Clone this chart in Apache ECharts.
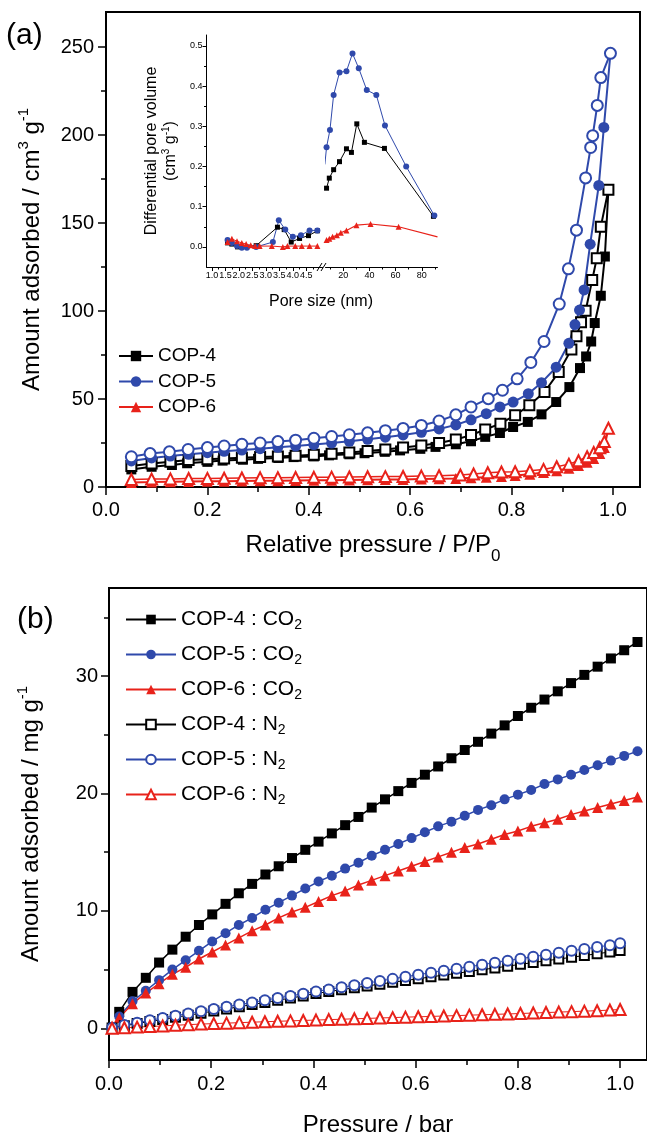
<!DOCTYPE html>
<html>
<head>
    <meta charset="UTF-8">
    <title>COP-4/5/6 sorption</title>
    <script src="https://cdn.jsdelivr.net/npm/echarts@6/dist/echarts.min.js"></script>
    <style>
        html, body { margin: 0; padding: 0; background: #fff; }
        #chart { width: 647px; height: 1141px; }
    </style>
</head>
<body>
    <div id="chart"></div>
    <script>
        // ---- (a) N2 isotherms: relative pressure P/P0 -> amount adsorbed (cm3 g-1)
        var relP4ads = [0.05, 0.09, 0.13, 0.16, 0.2, 0.23, 0.27, 0.3, 0.34, 0.37, 0.41, 0.44, 0.48, 0.51, 0.55, 0.58, 0.62, 0.65, 0.69, 0.72, 0.748, 0.777, 0.803, 0.832, 0.859, 0.888, 0.914, 0.935, 0.947, 0.957, 0.964, 0.976, 0.984, 0.991];
        var cop4ads = [10, 11.5, 12.5, 13.5, 14.3, 15, 15.5, 16, 16.5, 17, 17.4, 18, 18.6, 19.2, 20, 20.8, 21.7, 22.8, 24.3, 26, 28.5, 30.7, 34.1, 37, 41.3, 48.3, 56.8, 67.6, 74.2, 82.7, 93.2, 108.7, 131, 169];
        var relP4des = [0.05, 0.09, 0.127, 0.163, 0.2, 0.233, 0.268, 0.304, 0.339, 0.374, 0.41, 0.445, 0.48, 0.516, 0.551, 0.586, 0.622, 0.657, 0.69, 0.72, 0.748, 0.778, 0.807, 0.835, 0.865, 0.893, 0.918, 0.928, 0.937, 0.946, 0.959, 0.968, 0.976, 0.991];
        var cop4des = [11.9, 13.4, 14.3, 15.3, 15.8, 16.2, 16.6, 17, 17.4, 17.8, 18.3, 18.9, 19.6, 20.4, 21.3, 22.4, 23.6, 25, 27, 29.5, 32.7, 36, 40.8, 46.4, 54, 65.3, 78.1, 85.7, 93.6, 100.2, 117.6, 130, 148, 169];
        var relP5ads = [0.05, 0.09, 0.127, 0.163, 0.2, 0.233, 0.268, 0.304, 0.339, 0.374, 0.41, 0.445, 0.48, 0.516, 0.551, 0.586, 0.622, 0.657, 0.69, 0.72, 0.75, 0.777, 0.803, 0.833, 0.859, 0.888, 0.913, 0.925, 0.934, 0.943, 0.955, 0.972, 0.982, 0.995];
        var cop5ads = [14.8, 16.5, 17.6, 18.6, 19.5, 20.3, 21, 21.8, 22.6, 23.3, 24.1, 25, 26, 27.1, 28.3, 29.6, 31.1, 33, 35.3, 38.2, 41.7, 45.5, 48.3, 53, 59.3, 68.1, 81.7, 92.3, 100.6, 112, 138, 171.4, 204.4, 246.5];
        var relP5des = [0.05, 0.087, 0.125, 0.162, 0.2, 0.233, 0.268, 0.304, 0.339, 0.374, 0.41, 0.445, 0.48, 0.516, 0.551, 0.586, 0.622, 0.657, 0.69, 0.72, 0.754, 0.782, 0.811, 0.838, 0.864, 0.894, 0.912, 0.928, 0.946, 0.956, 0.96, 0.969, 0.976, 0.995];
        var cop5des = [17.2, 19, 20, 21.3, 22.4, 23.3, 24.3, 25, 25.8, 26.6, 27.7, 28.7, 29.7, 30.8, 32, 33.3, 35, 37.5, 41, 45.5, 50.2, 55, 61.5, 70.8, 82.7, 104, 124, 146, 175.7, 193, 199.7, 216.9, 232.7, 246.5];
        var relP6ads = [0.05, 0.09, 0.127, 0.163, 0.2, 0.233, 0.268, 0.304, 0.339, 0.374, 0.41, 0.445, 0.48, 0.516, 0.551, 0.586, 0.622, 0.657, 0.69, 0.72, 0.75, 0.78, 0.807, 0.836, 0.863, 0.889, 0.913, 0.932, 0.949, 0.962, 0.974, 0.983, 0.991];
        var cop6ads = [2.6, 2.8, 3, 3.1, 3.2, 3.3, 3.4, 3.5, 3.6, 3.7, 3.8, 3.9, 4, 4.1, 4.2, 4.3, 4.5, 4.7, 4.9, 5.2, 5.6, 6, 6.6, 7.3, 8.2, 9.3, 10.7, 12.2, 14, 16.2, 19, 22.5, 33.4];
        var relP6des = [0.05, 0.09, 0.127, 0.163, 0.2, 0.233, 0.268, 0.304, 0.339, 0.374, 0.41, 0.445, 0.48, 0.516, 0.551, 0.586, 0.622, 0.657, 0.699, 0.725, 0.753, 0.78, 0.807, 0.836, 0.863, 0.889, 0.913, 0.932, 0.949, 0.962, 0.974, 0.983, 0.991];
        var cop6des = [4.3, 4.5, 4.6, 4.8, 4.9, 5, 5.1, 5.2, 5.3, 5.4, 5.5, 5.6, 5.7, 5.8, 5.9, 6, 6.2, 6.4, 6.8, 7.4, 8.1, 8.5, 8.7, 9.2, 10, 11.5, 13, 14.9, 17.2, 19.6, 22.3, 25.8, 33.4];

        // ---- inset: pore size distribution, split axis (small pores | large pores)
        var poreSmall4 = [1.58, 1.74, 1.95, 2.64, 3.43, 3.68, 3.94, 4.25, 4.58, 4.91];
        var psdSmall4 = [0.01, 0.007, 0.0, 0.003, 0.049, 0.043, 0.012, 0.021, 0.028, 0.04];
        var poreSmall5 = [1.58, 1.74, 1.93, 2.11, 2.3, 2.64, 3.26, 3.48, 3.72, 4.0, 4.3, 4.62, 4.91];
        var psdSmall5 = [0.017, 0.01, 0.002, -0.002, -0.002, 0.0, 0.012, 0.066, 0.043, 0.025, 0.029, 0.041, 0.041];
        var poreSmall6 = [1.58, 1.74, 1.93, 2.11, 2.27, 2.44, 2.6, 2.77, 3.22, 3.63, 3.8, 4.09, 4.33, 4.62, 4.91];
        var psdSmall6 = [0.012, 0.02, 0.014, 0.01, 0.007, 0.004, 0.002, 0.002, 0.002, 0.0, 0.002, 0.002, 0.002, 0.002, 0.002];
        var poreLarge4 = [7.3, 9.4, 12.7, 17.2, 22.5, 26.3, 30.4, 36.2, 51.5, 88.9];
        var psdLarge4 = [0.146, 0.171, 0.192, 0.212, 0.244, 0.235, 0.306, 0.26, 0.245, 0.076];
        var poreLarge5 = [6.0, 7.3, 9.9, 12.7, 17.2, 22.5, 27.1, 31.9, 38, 45.3, 51.9, 68.1, 89.6];
        var psdLarge5 = [0.205, 0.248, 0.291, 0.378, 0.434, 0.437, 0.481, 0.444, 0.39, 0.378, 0.302, 0.2, 0.078];
        var poreLarge6 = [7.3, 9.4, 11.9, 15.2, 18.2, 22.5, 30.1, 40.9, 62.3, 92];
        var psdLarge6 = [0.017, 0.02, 0.025, 0.029, 0.035, 0.041, 0.054, 0.057, 0.05, 0.025];

        // ---- (b) CO2 / N2 uptake: pressure (bar) -> amount adsorbed (mg g-1)
        var presCO2 = [0.02, 0.046, 0.072, 0.098, 0.124, 0.15, 0.176, 0.202, 0.228, 0.254, 0.28, 0.306, 0.332, 0.358, 0.384, 0.41, 0.436, 0.462, 0.488, 0.514, 0.54, 0.566, 0.592, 0.618, 0.644, 0.67, 0.696, 0.722, 0.748, 0.774, 0.8, 0.826, 0.852, 0.878, 0.904, 0.93, 0.956, 0.982, 1.008, 1.034];
        var cop4CO2 = [1.4, 3.1, 4.3, 5.6, 6.7, 7.8, 8.8, 9.7, 10.6, 11.5, 12.3, 13.1, 13.8, 14.5, 15.2, 15.9, 16.6, 17.3, 18.0, 18.8, 19.5, 20.2, 20.9, 21.6, 22.3, 23.0, 23.7, 24.4, 25.1, 25.8, 26.6, 27.3, 28.0, 28.7, 29.4, 30.1, 30.8, 31.5, 32.2, 32.9];
        var cop5CO2 = [1.0, 2.3, 3.2, 4.1, 5.0, 5.8, 6.6, 7.4, 8.1, 8.8, 9.4, 10.1, 10.7, 11.3, 11.9, 12.5, 13.0, 13.6, 14.1, 14.7, 15.2, 15.7, 16.2, 16.7, 17.2, 17.6, 18.1, 18.6, 19.0, 19.5, 19.9, 20.3, 20.8, 21.2, 21.6, 22.0, 22.4, 22.8, 23.2, 23.6];
        var cop6CO2 = [0.9, 2.1, 3.0, 3.8, 4.6, 5.2, 5.9, 6.5, 7.1, 7.7, 8.3, 8.8, 9.4, 9.9, 10.3, 10.8, 11.3, 11.7, 12.2, 12.6, 13.0, 13.4, 13.8, 14.2, 14.6, 15.0, 15.4, 15.7, 16.1, 16.5, 16.8, 17.2, 17.5, 17.8, 18.2, 18.5, 18.8, 19.1, 19.4, 19.7];
        var presN2 = [0.006, 0.03, 0.055, 0.08, 0.105, 0.13, 0.155, 0.18, 0.205, 0.23, 0.255, 0.28, 0.305, 0.33, 0.355, 0.38, 0.405, 0.43, 0.455, 0.48, 0.505, 0.53, 0.555, 0.58, 0.605, 0.63, 0.655, 0.68, 0.705, 0.73, 0.755, 0.78, 0.805, 0.83, 0.855, 0.88, 0.905, 0.93, 0.955, 0.98, 1.0];
        var cop4N2 = [0.03, 0.22, 0.4, 0.58, 0.76, 0.94, 1.11, 1.29, 1.47, 1.65, 1.84, 2.02, 2.2, 2.39, 2.57, 2.76, 2.97, 3.13, 3.29, 3.45, 3.61, 3.76, 3.92, 4.07, 4.22, 4.38, 4.53, 4.68, 4.84, 4.99, 5.14, 5.29, 5.45, 5.6, 5.75, 5.9, 6.05, 6.2, 6.35, 6.5, 6.63];
        var cop5N2 = [0.05, 0.28, 0.48, 0.68, 0.88, 1.07, 1.26, 1.45, 1.64, 1.83, 2.02, 2.2, 2.39, 2.58, 2.76, 2.95, 3.13, 3.31, 3.49, 3.67, 3.85, 4.03, 4.21, 4.39, 4.57, 4.74, 4.91, 5.08, 5.25, 5.42, 5.59, 5.76, 5.93, 6.1, 6.27, 6.43, 6.6, 6.76, 6.92, 7.08, 7.25];
        var cop6N2 = [0.0, 0.05, 0.1, 0.15, 0.2, 0.26, 0.31, 0.36, 0.4, 0.44, 0.48, 0.52, 0.56, 0.6, 0.63, 0.67, 0.7, 0.74, 0.77, 0.81, 0.84, 0.88, 0.91, 0.95, 0.98, 1.01, 1.05, 1.08, 1.12, 1.15, 1.19, 1.22, 1.26, 1.3, 1.34, 1.38, 1.42, 1.46, 1.5, 1.55, 1.6];

        // tick positions
        var ticksRelP = [0, 0.2, 0.4, 0.6, 0.8, 1.0];
        var minorRelP = [0.1, 0.3, 0.5, 0.7, 0.9];
        var ticksAmtA = [0, 50, 100, 150, 200, 250];
        var minorAmtA = [25, 75, 125, 175, 225];
        var ticksPoreSmall = [1.0, 1.5, 2.0, 2.5, 3.0, 3.5, 4.0, 4.5];
        var minorPoreSmall = [1.25, 1.75, 2.25, 2.75, 3.25, 3.75, 4.25, 4.75];
        var ticksPoreLarge = [20, 40, 60, 80];
        var minorPoreLarge = [10, 30, 50, 70, 90];
        var ticksPsd = [0, 0.1, 0.2, 0.3, 0.4, 0.5];
        var minorPsd = [0.05, 0.15, 0.25, 0.35, 0.45];
        var ticksAmtB = [0, 10, 20, 30];
        var minorAmtB = [5, 15, 25, 35];

        var FONT = 'Liberation Sans';
        var BLACK = '#000000';
        var BLUE = '#2f49ab';
        var RED = '#e8221a';

        function pts(xs, ys) {
            return xs.map(function (x, i) { return [x, ys[i]]; });
        }

        // major axis: line, ticks and labels
        function axis(kind, grid, min, max, ticks, o) {
            return {
                type: 'value', gridIndex: grid, min: min, max: max,
                position: kind === 'x' ? 'bottom' : 'left',
                show: o.show !== false,
                splitLine: {show: false},
                axisLine: {show: true, onZero: false, lineStyle: {color: BLACK, width: o.lw}},
                axisTick: {show: true, inside: false, length: o.tick, customValues: ticks,
                    lineStyle: {color: BLACK, width: o.tw}},
                axisLabel: {show: true, customValues: ticks, fontSize: o.fs, margin: o.margin,
                    color: BLACK, fontFamily: FONT, formatter: o.fmt},
                name: o.name || '', nameLocation: 'middle', nameGap: o.nameGap || 0,
                nameRotate: kind === 'y' ? 90 : 0,
                nameTextStyle: o.nameStyle
            };
        }
        // minor ticks only, drawn on top of the major axis
        function minor(kind, grid, min, max, ticks, len, tw) {
            return {
                type: 'value', gridIndex: grid, min: min, max: max,
                position: kind === 'x' ? 'bottom' : 'left',
                splitLine: {show: false},
                axisLine: {show: false, onZero: false},
                axisTick: {show: true, inside: false, length: len, customValues: ticks,
                    lineStyle: {color: BLACK, width: tw}},
                axisLabel: {show: false}
            };
        }
        function fix1(v) { return v.toFixed(1); }

        var bigSup = {fontSize: 15, verticalAlign: 'top', lineHeight: 6, fontFamily: FONT};
        var bigSub = {fontSize: 17, verticalAlign: 'bottom', lineHeight: 4, fontFamily: FONT};

        var chart = echarts.init(document.getElementById('chart'), null, {renderer: 'canvas'});

        var xAxes = [
            axis('x', 0, 0, 1.0533, ticksRelP, {lw: 2, tw: 1.5, tick: 8, fs: 20, margin: 13, fmt: fix1,
                name: 'Relative pressure / P/P{b|0}', nameGap: 38,
                nameStyle: {fontSize: 24, fontFamily: FONT, color: BLACK, lineHeight: 40, rich: {b: bigSub}}}),
            minor('x', 0, 0, 1.0533, minorRelP, 5, 1.5),
            axis('x', 1, 0.8, 5.1, ticksPoreSmall, {lw: 1, tw: 1, tick: 4, fs: 9, margin: 4, fmt: fix1}),
            minor('x', 1, 0.8, 5.1, minorPoreSmall, 2.5, 1),
            axis('x', 2, 6.5, 92, ticksPoreLarge, {lw: 1, tw: 1, tick: 4, fs: 9, margin: 4}),
            minor('x', 2, 6.5, 92, minorPoreLarge, 2.5, 1),
            axis('x', 3, 0, 1.0526, ticksRelP, {lw: 2, tw: 1.5, tick: 8, fs: 20, margin: 14, fmt: fix1,
                name: 'Pressure / bar', nameGap: 50,
                nameStyle: {fontSize: 24, fontFamily: FONT, color: BLACK, lineHeight: 30}}),
            minor('x', 3, 0, 1.0526, minorRelP, 5, 1.5)
        ];
        var yAxes = [
            axis('y', 0, 0, 270, ticksAmtA, {lw: 2, tw: 1.5, tick: 8, fs: 20, margin: 12,
                name: 'Amount adsorbed / cm{p|3} g{p|-1}', nameGap: 58,
                nameStyle: {fontSize: 24, fontFamily: FONT, color: BLACK, lineHeight: 32, rich: {p: bigSup}}}),
            minor('y', 0, 0, 270, minorAmtA, 5, 1.5),
            axis('y', 1, -0.05, 0.527, ticksPsd, {lw: 1, tw: 1, tick: 4, fs: 9, margin: 4, fmt: fix1,
                name: 'Differential pore volume\n(cm{p|3} g{p|-1})', nameGap: 26,
                nameStyle: {fontSize: 16, fontFamily: FONT, color: BLACK, lineHeight: 19,
                    rich: {p: {fontSize: 10, verticalAlign: 'top', lineHeight: 4, fontFamily: FONT}}}}),
            minor('y', 1, -0.05, 0.527, minorPsd, 2.5, 1),
            axis('y', 2, -0.05, 0.527, ticksPsd, {show: false, lw: 1, tw: 1, tick: 4, fs: 9, margin: 4}),
            axis('y', 3, -2.7, 37.5, ticksAmtB, {lw: 2, tw: 1.5, tick: 8, fs: 20, margin: 11,
                name: 'Amount adsorbed / mg g{p|-1}', nameGap: 62,
                nameStyle: {fontSize: 24, fontFamily: FONT, color: BLACK, lineHeight: 32, rich: {p: bigSup}}}),
            minor('y', 3, -2.7, 37.5, minorAmtB, 5, 1.5)
        ];

        function line(name, xi, yi, data, color, symbol, size, width, borderWidth) {
            return {
                name: name, type: 'line', xAxisIndex: xi, yAxisIndex: yi, data: data,
                symbol: symbol, symbolSize: size, showAllSymbol: true,
                itemStyle: borderWidth ? {color: color, borderWidth: borderWidth} : {color: color},
                lineStyle: {color: color, width: width},
                emphasis: {disabled: true}
            };
        }

        var red6end = pts(poreLarge6, psdLarge6);
        red6end[red6end.length - 1] = {value: red6end[red6end.length - 1], symbol: 'none'};

        var series = [
            // (a) isotherms
            line('COP-4', 0, 0, pts(relP4ads, cop4ads), BLACK, 'rect', 10, 2),
            line('COP-4 des', 0, 0, pts(relP4des, cop4des), BLACK, 'emptyRect', 10, 2, 1.5),
            line('COP-5', 0, 0, pts(relP5ads, cop5ads), BLUE, 'circle', 11, 2),
            line('COP-5 des', 0, 0, pts(relP5des, cop5des), BLUE, 'emptyCircle', 11, 2, 1.5),
            line('COP-6', 0, 0, pts(relP6ads, cop6ads), RED, 'triangle', 11, 2),
            line('COP-6 des', 0, 0, pts(relP6des, cop6des), RED, 'emptyTriangle', 11, 1.5, 1.2),
            // inset
            line('psd4 s', 2, 2, pts(poreSmall4, psdSmall4), BLACK, 'rect', 5, 1),
            line('psd5 s', 2, 2, pts(poreSmall5, psdSmall5), BLUE, 'circle', 6, 1),
            line('psd6 s', 2, 2, pts(poreSmall6, psdSmall6), RED, 'triangle', 6, 1),
            line('psd4 l', 4, 4, pts(poreLarge4, psdLarge4), BLACK, 'rect', 5, 1),
            line('psd5 l', 4, 4, pts(poreLarge5, psdLarge5), BLUE, 'circle', 6, 1),
            line('psd6 l', 4, 4, red6end, RED, 'triangle', 6, 1.2),
            // (b) uptake
            line('COP-4 : CO2', 6, 5, pts(presCO2, cop4CO2), BLACK, 'rect', 10, 1.5),
            line('COP-5 : CO2', 6, 5, pts(presCO2, cop5CO2), BLUE, 'circle', 10, 1.5),
            line('COP-6 : CO2', 6, 5, pts(presCO2, cop6CO2), RED, 'triangle', 11, 1.5),
            line('COP-4 : N2', 6, 5, pts(presN2, cop4N2), BLACK, 'emptyRect', 9, 1, 1.2),
            line('COP-5 : N2', 6, 5, pts(presN2, cop5N2), BLUE, 'emptyCircle', 10, 1, 1.2),
            line('COP-6 : N2', 6, 5, pts(presN2, cop6N2), RED, 'emptyTriangle', 11, 1, 1.2)
        ];

        var option = {
            animation: false,
            backgroundColor: '#ffffff',
            textStyle: {fontFamily: FONT, color: BLACK},
            title: [
                {text: '(a)', left: 6, top: 21, padding: 0,
                    textStyle: {fontSize: 30, fontWeight: 'normal', color: BLACK, fontFamily: FONT}},
                {text: '(b)', left: 17, top: 605, padding: 0,
                    textStyle: {fontSize: 30, fontWeight: 'normal', color: BLACK, fontFamily: FONT}}
            ],
            grid: [
                {left: 106, top: 12, width: 534, height: 475, show: true, borderColor: BLACK, borderWidth: 2, backgroundColor: 'transparent'},
                {left: 206.5, top: 35, width: 116, height: 232, show: false},
                {left: 325.5, top: 35, width: 112, height: 232, show: false},
                {left: 109, top: 588, width: 540, height: 477, show: true, borderColor: BLACK, borderWidth: 2, backgroundColor: 'transparent'}
            ],
            legend: [
                {data: ['COP-4', 'COP-5', 'COP-6'], orient: 'vertical', left: 118, top: 345, padding: 0,
                    itemWidth: 34, itemHeight: 13, itemGap: 3.5, selectedMode: false,
                    textStyle: {fontSize: 19, lineHeight: 22, color: BLACK, fontFamily: FONT}},
                {data: ['COP-4 : CO2', 'COP-5 : CO2', 'COP-6 : CO2', 'COP-4 : N2', 'COP-5 : N2', 'COP-6 : N2'],
                    orient: 'vertical', left: 125, top: 609, padding: 0,
                    itemWidth: 50, itemHeight: 12, itemGap: 11.5, selectedMode: false,
                    formatter: function (name) {
                        return '{n|' + name.slice(0, -1) + '}{s|' + name.slice(-1) + '}';
                    },
                    textStyle: {color: BLACK, fontFamily: FONT, rich: {
                        n: {fontSize: 21, lineHeight: 26, fontFamily: FONT, color: BLACK},
                        s: {fontSize: 14, lineHeight: 6, verticalAlign: 'bottom', fontFamily: FONT, color: BLACK}
                    }}}
            ],
            xAxis: xAxes,
            yAxis: yAxes,
            series: series,
            graphic: [
                {type: 'text', x: 321, y: 302,
                    style: {text: 'Pore size (nm)', fontSize: 16, fontFamily: FONT, fill: BLACK, align: 'center', verticalAlign: 'middle'}},
                {type: 'line', shape: {x1: 317, y1: 271, x2: 322, y2: 263}, style: {stroke: BLACK, lineWidth: 1}},
                {type: 'line', shape: {x1: 321, y1: 271, x2: 326, y2: 263}, style: {stroke: BLACK, lineWidth: 1}}
            ]
        };
        chart.setOption(option);
    </script>
</body>
</html>
